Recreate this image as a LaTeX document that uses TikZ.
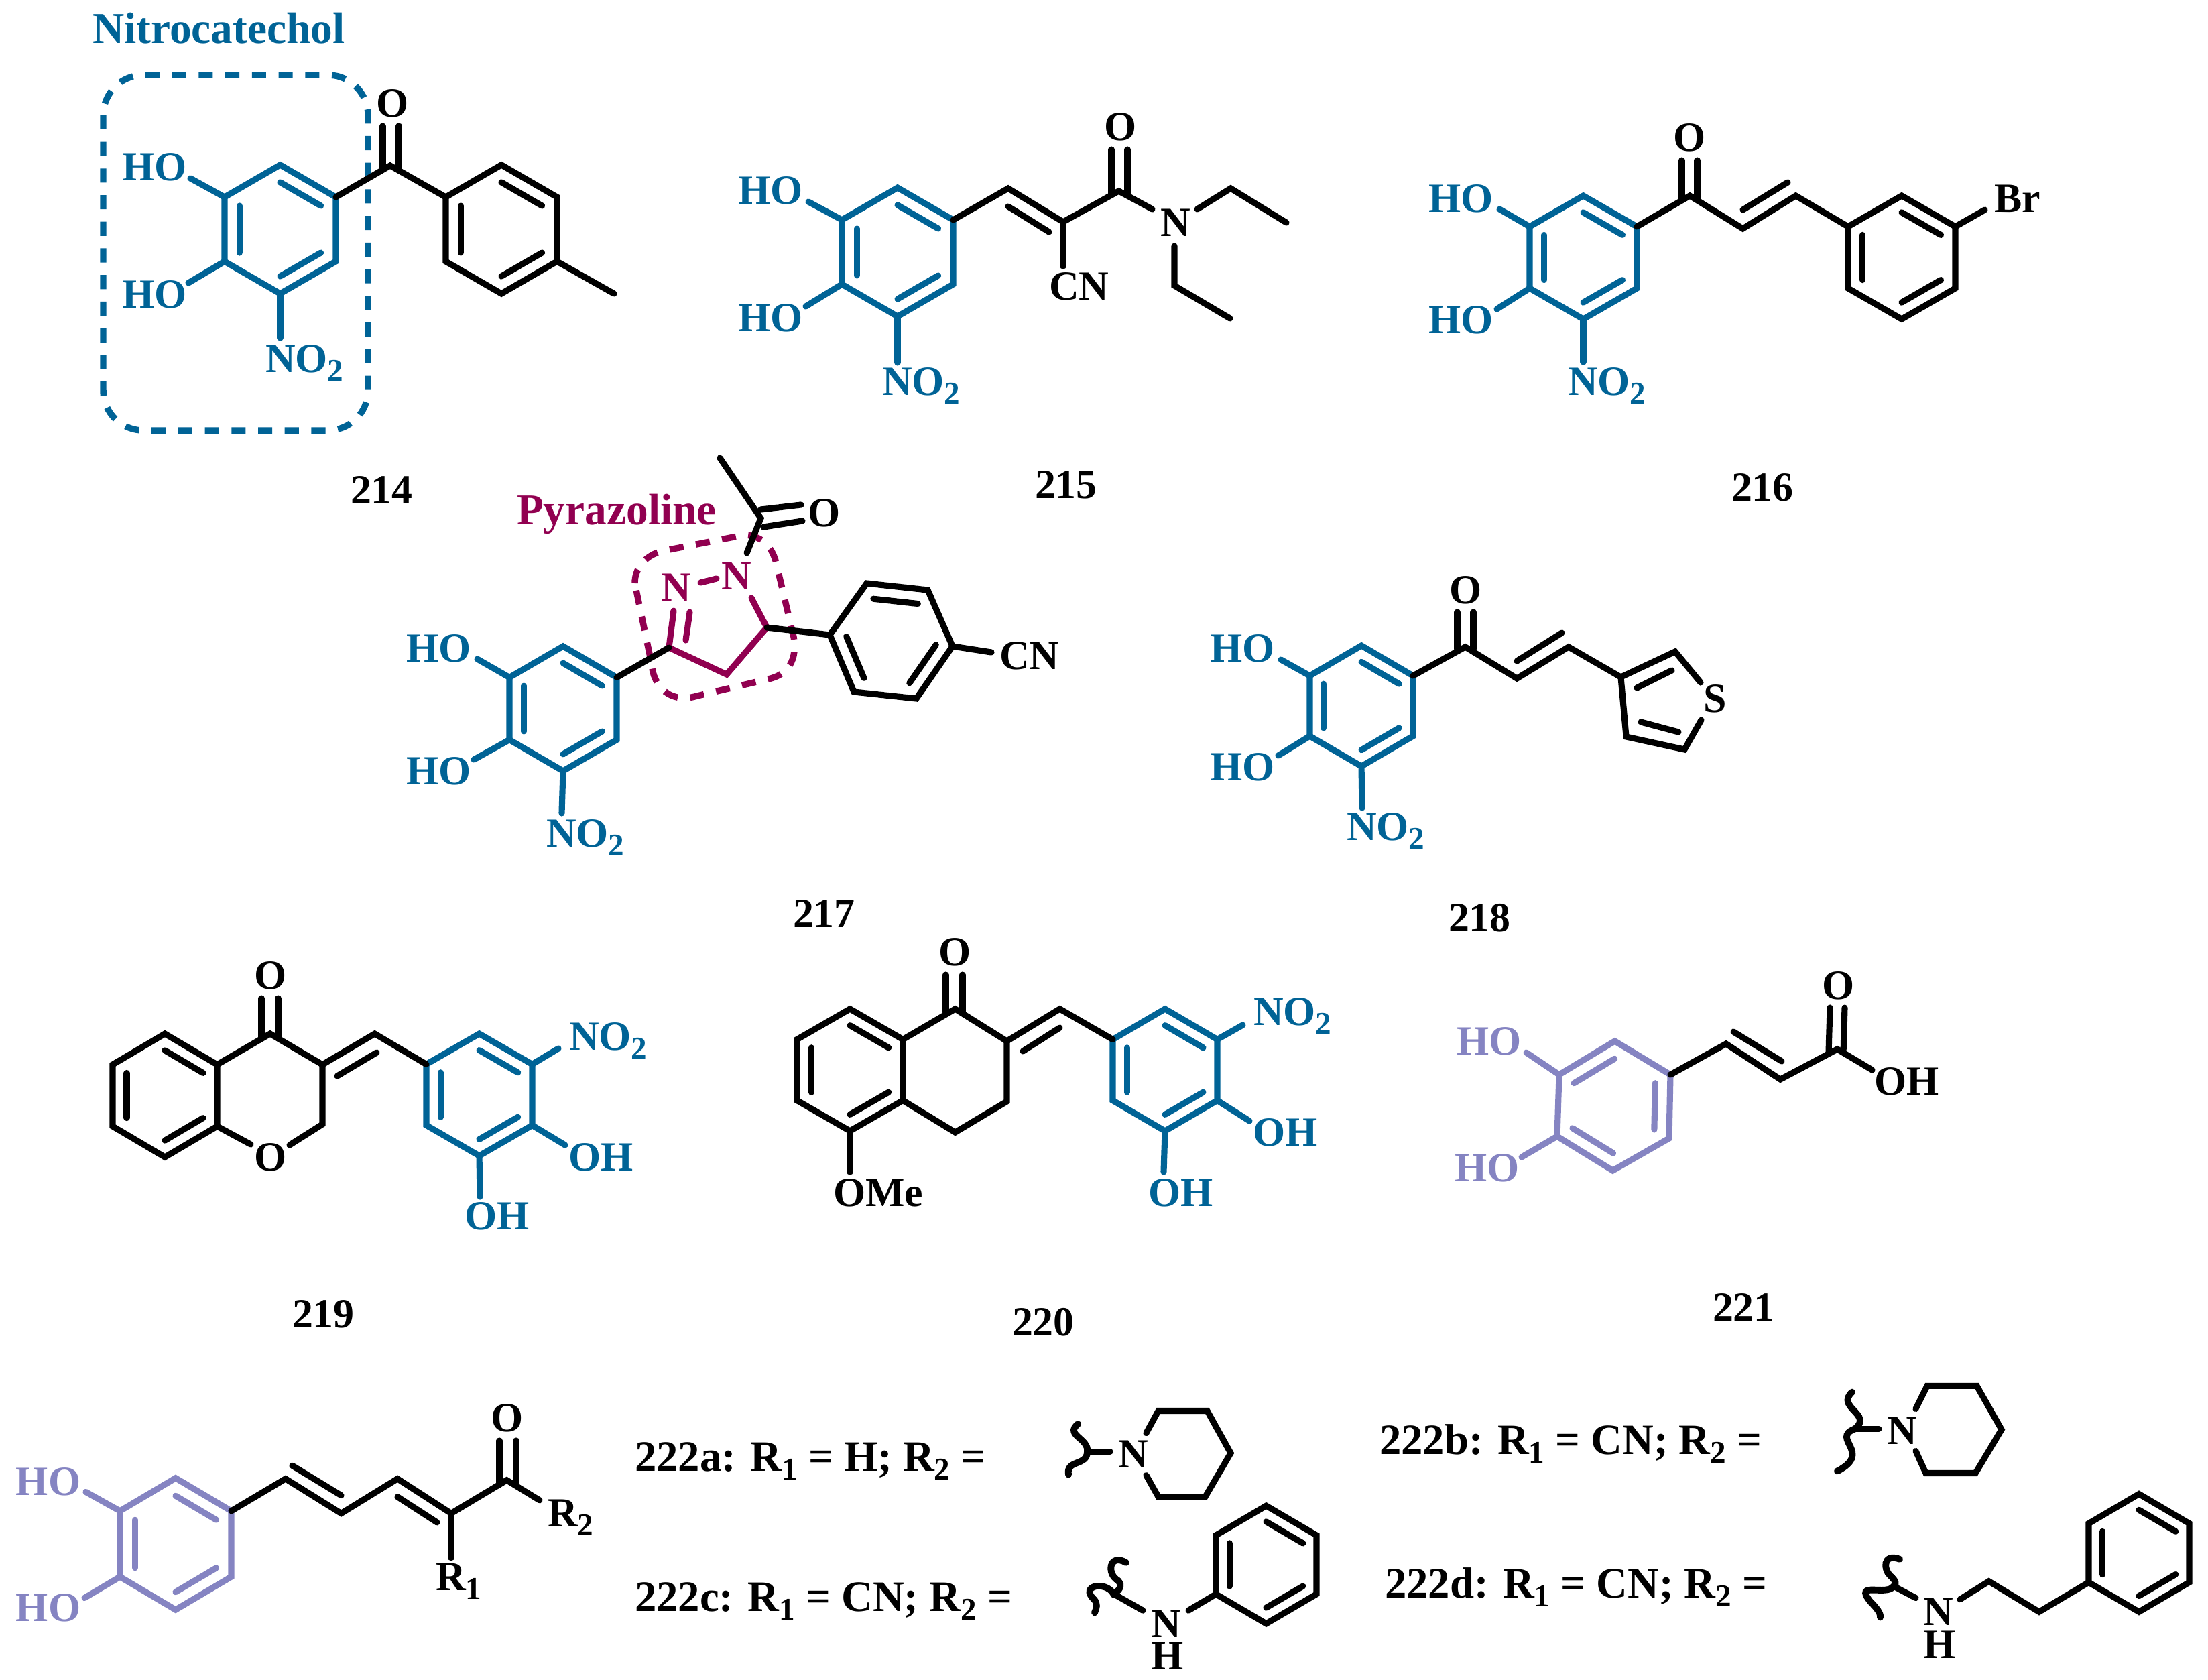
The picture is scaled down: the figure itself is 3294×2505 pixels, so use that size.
\documentclass[tikz,border=0pt]{standalone}
\usepackage{fontspec}
\setmainfont{Liberation Serif}
\usetikzlibrary{calc}
\definecolor{catblue}{RGB}{0,99,150}
\definecolor{pyrared}{RGB}{145,0,80}
\definecolor{caflilac}{RGB}{133,132,194}
\newcommand{\sbs}[1]{\raisebox{-3.7pt}{\fontsize{13.4}{15}\selectfont #1}}
\newcommand{\pts}[1]{\foreach \n/\x/\y in {#1}{\coordinate (\n) at (\x,\y);}}
\newcommand{\bonds}[2][]{\foreach \a/\b in {#2}{\draw[bond,#1] (\a) -- (\b);}}
\newcommand{\inbond}[4][]{\draw[bond,#1] ($(#2)!.27!(#4)$) -- ($(#3)!.27!(#4)$);}
\newcommand{\lab}[5][]{\node[lab,#1] (#2) at (#3,#4) {#5};}
\newcommand{\hexring}[6][]{%
  \coordinate (#2c) at (#3,#4);
  \coordinate (#2t) at ({#3},{#4-#6});
  \coordinate (#2ur) at ({#3+#5},{#4-#6/2});
  \coordinate (#2lr) at ({#3+#5},{#4+#6/2});
  \coordinate (#2b) at ({#3},{#4+#6});
  \coordinate (#2ll) at ({#3-#5},{#4+#6/2});
  \coordinate (#2ul) at ({#3-#5},{#4-#6/2});
  \draw[bond,#1] (#2t)--(#2ur)--(#2lr)--(#2b)--(#2ll)--(#2ul)--cycle;
  \inbond[#1]{#2ul}{#2ll}{#2c}
  \inbond[#1]{#2t}{#2ur}{#2c}
  \inbond[#1]{#2b}{#2lr}{#2c}
}
\tikzset{
  bond/.style={line width=2.6pt,line cap=round},
  wavy/.style={line width=2.8pt,line cap=round},
  lab/.style={anchor=base west,inner sep=0pt,outer sep=0pt,font=\fontsize{17.6}{20}\selectfont\bfseries},
  lab2/.style={font=\fontsize{18.4}{20}\selectfont\bfseries},
  lab3/.style={font=\fontsize{18.6}{20}\selectfont\bfseries},
  cat/.style={catblue},
  catl/.style={text=catblue},
  pyr/.style={pyrared},
  pyrl/.style={text=pyrared},
  caf/.style={caflilac},
  cafl/.style={text=caflilac},
  blob/.style={line width=2.7pt,dash pattern=on 6pt off 5.3pt}
}
\begin{document}
\begin{tikzpicture}[x=0.01cm,y=-0.01cm]
\useasboundingbox (0,0) rectangle (3294,2505);
%% 214
\draw[blob,catblue,rounded corners=17pt] (154,112) rectangle (549,642);
\lab[catl,lab3]{nitro}{138}{64}{Nitrocatechol}
\hexring[cat]{aL}{418}{342}{83}{96}
\hexring{aR}{748}{342}{83}{96}
\pts{aC/582/247,aO1/571/188,aO2/595/188,aO1b/571/252,aO2b/595/252,aMe/916/438,aHO1/284/266,aHO2/281/422,aNO/418/504}
\draw[bond] (aLur)--(aC)--(aRul);
\bonds{aO1b/aO1,aO2b/aO2,aRlr/aMe}
\bonds[cat]{aLul/aHO1,aLll/aHO2,aLb/aNO}
\lab{aOl}{561}{174}{O}
\lab[catl]{aHOa}{182}{269}{HO}
\lab[catl]{aHOb}{182}{459}{HO}
\lab[catl]{aNOl}{396}{555}{NO\sbs{2}}
\lab{n214}{523}{751}{214}
%% 215
\hexring[cat]{b}{1339}{376}{83}{96}
\pts{b1/1504/281,b2/1586/331,bC/1669/285,bi1/1504/308,bi2/1565/346,bO1/1658/223,bO2/1682/223,bO1b/1658/290,bO2b/1682/290,bN/1719/312,bE1/1786/312,bE2/1836/281,bE3/1919/332,bF1/1752/367,bF2/1752/426,bF3/1835/475,bCN/1586/397,bHO1/1206/301,bHO2/1202/457,bNO/1339/541}
\draw[bond] (bur)--(b1)--(b2)--(bC)--(bN);
\draw[bond] (bE1)--(bE2)--(bE3);
\draw[bond] (bF1)--(bF2)--(bF3);
\bonds{bi1/bi2,bO1b/bO1,bO2b/bO2,b2/bCN}
\bonds[cat]{bul/bHO1,bll/bHO2,bb/bNO}
\lab{bOl}{1647}{209}{O}
\lab{bNl}{1731}{352}{N}
\lab{bCNl}{1565}{447}{CN}
\lab[catl]{bHOa}{1101}{304}{HO}
\lab[catl]{bHOb}{1101}{494}{HO}
\lab[catl]{bNOl}{1316}{589}{NO\sbs{2}}
\lab{n215}{1544}{743}{215}
%% 216
\hexring[cat]{c}{2362}{384}{80}{92}
\hexring{d}{2837}{384}{80}{92}
\pts{cC/2521/292,c1/2600/341,c2/2679/292,ci1/2600/313,ci2/2667/272,cO1/2509/239,cO2/2532/239,cO1b/2509/297,cO2b/2532/297,cBr/2961/313,cHO1/2237/312,cHO2/2233/461,cNO/2362/540}
\draw[bond] (cur)--(cC)--(c1)--(c2)--(dul);
\bonds{ci1/ci2,cO1b/cO1,cO2b/cO2,dur/cBr}
\bonds[cat]{cul/cHO1,cll/cHO2,cb/cNO}
\lab{cOl}{2496}{225}{O}
\lab{cBrl}{2975}{316}{Br}
\lab[catl]{cHOa}{2131}{316}{HO}
\lab[catl]{cHOb}{2131}{497}{HO}
\lab[catl]{cNOl}{2339}{589}{NO\sbs{2}}
\lab{n216}{2583}{747}{216}
%% 217
\hexring[cat]{e}{840}{1057}{80}{93}
\pts{e3/998/966,e4/1084/1006,e5/1144/936,eN1/1121/892,eNNa/1045/869,eNNb/1069/863,eN2/1005/911,ei1/1023/955,ei2/1029/913,eN3/1114/825,eAc/1135/773,eMe/1074/683,eO1a/1135/760,eO1b/1195/753,eO2a/1139/786,eO2b/1197/777,f1/1238/947,f2/1293/870,f3/1384/880,f4/1421/964,f5/1367/1042,f6/1274/1032,fc/1329.5/956,fCN/1479/973,eHO1/712/983,eHO2/707/1133,eNO/838/1213}
\draw[blob,pyrared] (947,870) .. controls (947,845) and (965,828) .. (988,822) -- (1110,798) .. controls (1135,798) and (1152,815) .. (1158,840) -- (1184,950) .. controls (1190,985) and (1175,1005) .. (1150,1012) -- (1040,1038) .. controls (1000,1050) and (975,1025) .. (972,990) -- cycle;
\draw[bond,pyr] (e3)--(e4)--(e5)--(eN1);
\bonds[pyr]{e3/eN2,ei1/ei2,eNNa/eNNb}
\bonds{eur/e3,e5/f1,f4/fCN,eO1a/eO1b,eO2a/eO2b}
\draw[bond] (eN3)--(eAc)--(eMe);
\draw[bond] (f1)--(f2)--(f3)--(f4)--(f5)--(f6)--cycle;
\inbond{f2}{f3}{fc}
\inbond{f4}{f5}{fc}
\inbond{f6}{f1}{fc}
\bonds[cat]{eul/eHO1,ell/eHO2,eb/eNO}
\lab[pyrl,lab3]{pyra}{771}{782}{Pyrazoline}
\lab{eOl}{1205}{785}{O}
\lab[pyrl]{eNa}{1076}{879}{N}
\lab[pyrl]{eNb}{986}{896}{N}
\lab{eCNl}{1491}{998}{CN}
\lab[catl]{eHOa}{606}{987}{HO}
\lab[catl]{eHOb}{606}{1170}{HO}
\lab[catl]{eNOl}{815}{1263}{NO\sbs{2}}
\lab{n217}{1183}{1383}{217}
%% 218
\hexring[cat]{g}{2031}{1053}{77}{90}
\pts{gC/2186/965,g1/2263/1012,g2/2340/965,h3/2418/1010,h2/2499/972,hS1/2537/1018,hS2/2538/1074,h5/2513/1118,h4/2426/1099,gi1/2263/986,gi2/2330/944,gO1/2174/913,gO2/2198/913,gO1b/2174/968,gO2b/2198/968,hi1/2442/1026,hi2/2494/1000,hi3/2448/1077,hi4/2504/1092,gHO1/1911/984,gHO2/1907/1127,gNO/2032/1205}
\draw[bond] (gur)--(gC)--(g1)--(g2)--(h3);
\draw[bond] (hS1)--(h2)--(h3)--(h4)--(h5)--(hS2);
\bonds{gi1/gi2,gO1b/gO1,gO2b/gO2,hi1/hi2,hi3/hi4}
\bonds[cat]{gul/gHO1,gll/gHO2,gb/gNO}
\lab{gOl}{2162}{900}{O}
\lab{gSl}{2541}{1062}{S}
\lab[catl]{gHOa}{1805}{987}{HO}
\lab[catl]{gHOb}{1805}{1164}{HO}
\lab[catl]{gNOl}{2009}{1253}{NO\sbs{2}}
\lab{n218}{2161}{1389}{218}
%% 219
\hexring{i}{246}{1634}{78}{92}
\hexring[cat]{j}{715}{1633}{79}{91}
\pts{iC/403/1542,i3/481/1588,iCH/559/1542,i2/481/1677,iOa/374/1707,iOb/432/1708,ii1/503/1605,ii2/562/1570,iO1/390/1489,iO2/415/1489,iO1b/390/1547,iO2b/415/1547,jNO/833/1564,jOH1/843/1708,jOH2/716/1785}
\draw[bond] (iur)--(iC)--(i3)--(iCH)--(jul);
\draw[bond] (i3)--(i2)--(iOb);
\bonds{ilr/iOa,ii1/ii2,iO1b/iO1,iO2b/iO2}
\bonds[cat]{jur/jNO,jlr/jOH1,jb/jOH2}
\lab{iOl}{379}{1475}{O}
\lab{iOr}{379}{1746}{O}
\lab[catl]{jNOl}{849}{1566}{NO\sbs{2}}
\lab[catl]{jOHa}{848}{1746}{OH}
\lab[catl]{jOHb}{693}{1834}{OH}
\lab{n219}{436}{1980}{219}
%% 220
\hexring{k}{1268}{1596}{79}{91}
\hexring[cat]{l}{1738}{1596}{78}{91}
\pts{kC/1425/1505,k2/1502/1553,kCH/1581/1505,k3/1502/1643,k4/1425/1689,ki1/1526/1568,ki2/1581/1533,kO1/1411/1454,kO2/1436/1454,kO1b/1411/1510,kO2b/1436/1510,kOMe/1268/1748,lNO/1854/1529,lOH1/1864/1672,lOH2/1736/1748}
\draw[bond] (kur)--(kC)--(k2)--(kCH)--(lul);
\draw[bond] (k2)--(k3)--(k4)--(klr);
\bonds{ki1/ki2,kO1b/kO1,kO2b/kO2,kb/kOMe}
\bonds[cat]{lur/lNO,llr/lOH1,lb/lOH2}
\lab{kOl}{1400}{1440}{O}
\lab{kOMel}{1243}{1799}{OMe}
\lab[catl]{lNOl}{1870}{1529}{NO\sbs{2}}
\lab[catl]{lOHa}{1869}{1709}{OH}
\lab[catl]{lOHb}{1713}{1799}{OH}
\lab{n220}{1510}{1992}{220}
%% 221
\pts{mt/2409/1553,mur/2492/1603,mlr/2490/1698,mb/2406/1746,mll/2323/1695,mul/2326/1603,mc/2408/1650,m1/2575/1557,m2/2656/1610,mC/2741/1565,mOH/2793/1596,mi1/2586/1539,mi2/2658/1583,mO1/2730/1503,mO2/2752/1503,mO1b/2728/1570,mO2b/2750/1570,mHO1/2277/1570,mHO2/2270/1726}
\draw[bond,caf] (mt)--(mur)--(mlr)--(mb)--(mll)--(mul)--cycle;
\inbond[caf]{mt}{mul}{mc}
\inbond[caf]{mur}{mlr}{mc}
\inbond[caf]{mb}{mll}{mc}
\bonds[caf]{mul/mHO1,mll/mHO2}
\draw[bond] (mur)--(m1)--(m2)--(mC)--(mOH);
\bonds{mi1/mi2,mO1b/mO1,mO2b/mO2}
\lab{mOl}{2718}{1490}{O}
\lab{mOHl}{2796}{1633}{OH}
\lab[cafl]{mHOa}{2173}{1573}{HO}
\lab[cafl]{mHOb}{2170}{1762}{HO}
\lab{n221}{2555}{1970}{221}
\begin{scope}[y=-0.01033cm,yshift=0.66cm]
%% 222 core
\hexring[caf]{p}{262}{2292}{83}{95}
\pts{p1/426/2198,p2/509/2248,p3/593/2198,p4/673/2248,pC/756/2200,pR2/805/2229,pR1/673/2312,pO1/745/2143,pO2/770/2143,pO1b/745/2205,pO2b/770/2205,pi1/436/2179,pi2/509/2222,pi3/593/2224,pi4/652/2261,pHO1/128/2217,pHO2/126/2370}
\draw[bond] (pur)--(p1)--(p2)--(p3)--(p4)--(pC)--(pR2);
\bonds{p4/pR1,pO1b/pO1,pO2b/pO2,pi1/pi2,pi3/pi4}
\bonds[caf]{pul/pHO1,pll/pHO2}
\lab{pOl}{732}{2130}{O}
\lab{pR1l}{650}{2359}{R\sbs{1}}
\lab{pR2l}{817}{2267}{R\sbs{2}}
\lab[cafl]{pHOa}{24}{2222}{HO}
\lab[cafl]{pHOb}{24}{2404}{HO}
%% 222 legends
\lab[lab2]{ta}{947}{2187}{222a: R\sbs{1} = H; R\sbs{2} =}
\lab[lab2]{tc}{947}{2389}{222c: R\sbs{1} = CN; R\sbs{2} =}
\lab[lab2]{tb}{2058}{2163}{222b: R\sbs{1} = CN; R\sbs{2} =}
\lab[lab2]{td}{2066}{2370}{222d: R\sbs{1} = CN; R\sbs{2} =}
%% 222a piperidine
\pts{qa0/1622/2159,qa1/1656/2159,qa2/1710/2132,qa3/1728/2100,qa4/1801/2100,qa5/1836/2161,qa6/1798/2224,qa7/1728/2224,qa8/1710/2193}
\draw[wavy] (1608,2119) .. controls (1588,2135) and (1625,2140) .. (qa0) .. controls (1622,2180) and (1590,2170) .. (1594,2192);
\draw[bond] (qa0)--(qa1);
\draw[bond] (qa2)--(qa3)--(qa4)--(qa5)--(qa6)--(qa7)--(qa8);
\lab{qaN}{1668}{2182}{N}
%% 222b piperidine
\pts{qb0/2767/2126,qb1/2803/2126,qb2/2858/2097,qb3/2875/2064,qb4/2949/2064,qb5/2986/2127,qb6/2947/2190,qb7/2873/2190,qb8/2858/2158}
\draw[wavy] (2763,2073) .. controls (2738,2095) and (2795,2105) .. (qb0) .. controls (2730,2140) and (2795,2160) .. (2741,2187);
\draw[bond] (qb0)--(qb1);
\draw[bond] (qb2)--(qb3)--(qb4)--(qb5)--(qb6)--(qb7)--(qb8);
\lab{qbN}{2815}{2148}{N}
%% 222c anilide
\hexring{r}{1889}{2322}{75}{85}
\pts{rN1/1773/2388,rN2/1705/2388,rW/1661/2364}
\draw[wavy] (1680,2319) .. controls (1655,2305) and (1650,2335) .. (1668,2345) .. controls (1675,2352) and (1670,2360) .. (rW) .. controls (1650,2345) and (1610,2352) .. (1632,2372) .. controls (1638,2378) and (1636,2385) .. (1633,2391);
\bonds{rll/rN1,rN2/rW}
\lab{rNl}{1717}{2427}{N}
\lab{rHl}{1717}{2473}{H}
%% 222d phenethyl
\hexring{s}{3191}{2305}{75}{85}
\pts{s1/3042/2390,s2/2967/2346,s3/2924/2372,sN/2858/2370,sW/2825/2353}
\draw[wavy] (2834,2314) .. controls (2808,2305) and (2810,2330) .. (2820,2338) .. controls (2828,2345) and (2830,2350) .. (sW) .. controls (2815,2368) and (2765,2345) .. (2790,2375) .. controls (2800,2385) and (2806,2392) .. (2805,2398);
\draw[bond] (sll)--(s1)--(s2)--(s3);
\bonds{sN/sW}
\lab{sNl}{2869}{2410}{N}
\lab{sHl}{2869}{2457}{H}
\end{scope}
\end{tikzpicture}
\end{document}
